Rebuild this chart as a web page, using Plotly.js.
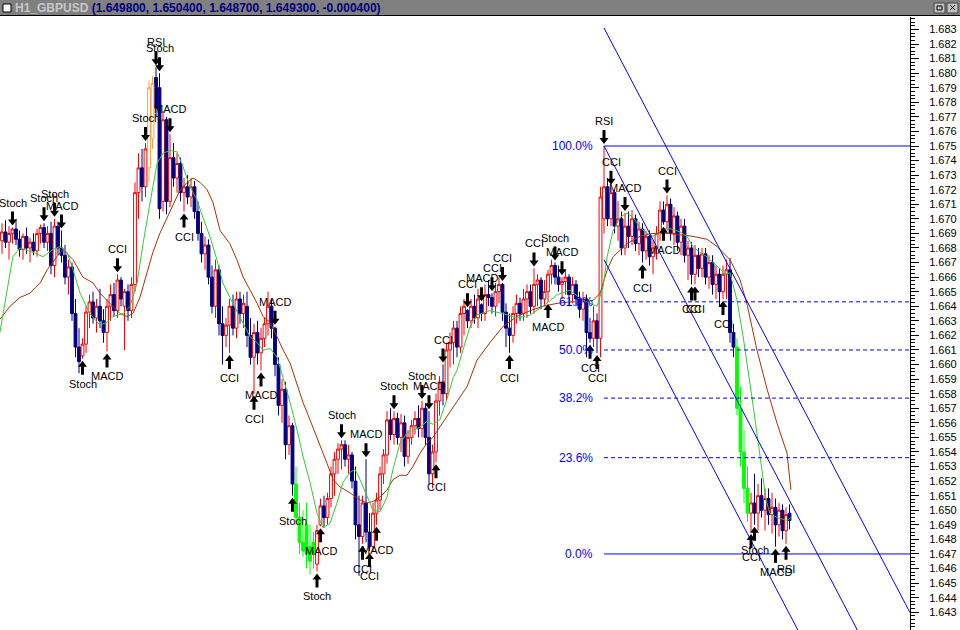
<!DOCTYPE html>
<html>
<head>
<meta charset="utf-8">
<script src="https://cdn.plot.ly/plotly-3.0.1.min.js"></script>
<style>
  html, body { margin: 0; padding: 0; background: #ffffff; }
  #chart { width: 960px; height: 630px; }
</style>
</head>
<body>
<div id="chart"></div>
<script>
// ---------------- data ----------------
const symbol = 'H1_GBPUSD';

// hourly bars, oldest first
const open = [
  1.6685,1.6691,1.6684,1.6690,1.6693,1.6686,1.6679,1.6688,1.6680,1.6684,
  1.6678,1.6690,1.6694,1.6684,1.6690,1.6668,1.6695,1.6680,1.6675,1.6660,
  1.6667,1.6635,1.6612,1.6606,1.6614,1.6636,1.6643,1.6632,1.6640,1.6630,
  1.6622,1.6640,1.6648,1.6637,1.6658,1.6640,1.6650,1.6637,1.6655,1.6718,
  1.6735,1.6722,1.6735,1.6755,1.6797,1.6790,1.6712,1.6768,1.6712,1.6742,
  1.6728,1.6738,1.6718,1.6722,1.6715,1.6722,1.6705,1.6690,1.6676,1.6682,
  1.6660,1.6640,1.6665,1.6628,1.6620,1.6627,1.6640,1.6625,1.6645,1.6635,
  1.6640,1.6620,1.6605,1.6622,1.6608,1.6618,1.6628,1.6640,1.6625,1.6600,
  1.6572,1.6583,1.6545,1.6558,1.6518,1.6495,1.6478,1.6490,1.6475,1.6470,
  1.6463,1.6490,1.6503,1.6495,1.6508,1.6525,1.6535,1.6542,1.6545,1.6535,
  1.6538,1.6520,1.6490,1.6482,1.6505,1.6485,1.6475,1.6498,1.6507,1.6525,
  1.6538,1.6562,1.6552,1.6563,1.6550,1.6560,1.6537,1.6550,1.6558,1.6563,
  1.6556,1.6570,1.6550,1.6525,1.6540,1.6575,1.6588,1.6580,1.6610,1.6615,
  1.6625,1.6612,1.6635,1.6637,1.6630,1.6640,1.6632,1.6641,1.6635,1.6648,
  1.6646,1.6640,1.6650,1.6655,1.6636,1.6625,1.6620,1.6635,1.6642,1.6635,
  1.6645,1.6650,1.6640,1.6655,1.6658,1.6645,1.6650,1.6662,1.6668,1.6660,
  1.6655,1.6657,1.6660,1.6648,1.6655,1.6645,1.6638,1.6645,1.6622,1.6618,
  1.6630,1.6618,1.6700,1.6722,1.6700,1.6718,1.6695,1.6700,1.6680,1.6695,
  1.6688,1.6700,1.6683,1.6693,1.6678,1.6688,1.6674,1.6680,1.6690,1.6706,
  1.6698,1.6710,1.6690,1.6702,1.6684,1.6695,1.6675,1.6680,1.6662,1.6675,
  1.6666,1.6676,1.6660,1.6670,1.6655,1.6662,1.6650,1.6662,1.6665,1.6622,
  1.6612,1.6570,1.6540,1.6515,1.6498,1.6505,1.6498,1.6510,1.6500,1.6508,
  1.6497,1.6502,1.6490,1.6500,1.6486,1.6498
];
const high = [
  1.6697,1.6699,1.6695,1.6694,1.6700,1.6692,1.6690,1.6694,1.6687,1.6690,
  1.6693,1.6696,1.6697,1.6695,1.6698,1.6700,1.6698,1.6692,1.6682,1.6672,
  1.6670,1.6645,1.6625,1.6618,1.6640,1.6648,1.6650,1.6645,1.6652,1.6638,
  1.6645,1.6655,1.6656,1.6662,1.6660,1.6652,1.6655,1.6660,1.6725,1.6745,
  1.6748,1.6752,1.6795,1.6798,1.6804,1.6800,1.6774,1.6770,1.6758,1.6752,
  1.6745,1.6742,1.6728,1.6730,1.6728,1.6726,1.6712,1.6698,1.6688,1.6686,
  1.6668,1.6672,1.6668,1.6640,1.6632,1.6645,1.6648,1.6650,1.6650,1.6648,
  1.6650,1.6632,1.6628,1.6630,1.6625,1.6632,1.6650,1.6645,1.6626,1.6605,
  1.6590,1.6588,1.6565,1.6560,1.6530,1.6505,1.6500,1.6505,1.6490,1.6485,
  1.6490,1.6508,1.6510,1.6512,1.6530,1.6540,1.6546,1.6548,1.6548,1.6545,
  1.6540,1.6530,1.6510,1.6510,1.6535,1.6498,1.6505,1.6512,1.6530,1.6542,
  1.6568,1.6570,1.6568,1.6567,1.6566,1.6565,1.6555,1.6562,1.6568,1.6572,
  1.6575,1.6573,1.6568,1.6545,1.6580,1.6592,1.6600,1.6615,1.6622,1.6630,
  1.6630,1.6640,1.6645,1.6638,1.6645,1.6648,1.6652,1.6642,1.6655,1.6658,
  1.6649,1.6656,1.6660,1.6656,1.6642,1.6635,1.6640,1.6648,1.6646,1.6652,
  1.6655,1.6655,1.6666,1.6662,1.6660,1.6658,1.6665,1.6672,1.6670,1.6668,
  1.6660,1.6665,1.6662,1.6660,1.6658,1.6650,1.6650,1.6648,1.6632,1.6640,
  1.6635,1.6722,1.6750,1.6728,1.6722,1.6720,1.6712,1.6705,1.6704,1.6705,
  1.6706,1.6703,1.6698,1.6697,1.6692,1.6692,1.6685,1.6695,1.6712,1.6712,
  1.6716,1.6714,1.6708,1.6705,1.6700,1.6700,1.6685,1.6684,1.6682,1.6680,
  1.6680,1.6680,1.6675,1.6675,1.6668,1.6666,1.6668,1.6672,1.6673,1.6628,
  1.6618,1.6585,1.6555,1.6530,1.6512,1.6525,1.6518,1.6522,1.6515,1.6515,
  1.6512,1.6508,1.6505,1.6504,1.6502,1.6504
];
const low = [
  1.6676,1.6680,1.6672,1.6683,1.6682,1.6674,1.6672,1.6676,1.6670,1.6675,
  1.6674,1.6683,1.6680,1.6678,1.6662,1.6660,1.6675,1.6670,1.6655,1.6648,
  1.6630,1.6605,1.6594,1.6604,1.6608,1.6625,1.6628,1.6622,1.6625,1.6615,
  1.6609,1.6630,1.6633,1.6632,1.6640,1.6610,1.6630,1.6632,1.6650,1.6700,
  1.6712,1.6715,1.6725,1.6748,1.6770,1.6700,1.6705,1.6703,1.6708,1.6722,
  1.6718,1.6712,1.6705,1.6710,1.6708,1.6700,1.6685,1.6670,1.6665,1.6655,
  1.6635,1.6632,1.6620,1.6600,1.6612,1.6608,1.6620,1.6618,1.6628,1.6625,
  1.6612,1.6600,1.6580,1.6600,1.6596,1.6612,1.6620,1.6618,1.6592,1.6565,
  1.6560,1.6535,1.6538,1.6510,1.6490,1.6470,1.6468,1.6460,1.6456,1.6460,
  1.6458,1.6489,1.6488,1.6490,1.6502,1.6510,1.6525,1.6528,1.6530,1.6525,
  1.6515,1.6480,1.6455,1.6477,1.6478,1.6472,1.6472,1.6490,1.6500,1.6518,
  1.6532,1.6548,1.6545,1.6545,1.6540,1.6530,1.6532,1.6545,1.6552,1.6550,
  1.6550,1.6545,1.6518,1.6515,1.6533,1.6565,1.6572,1.6575,1.6598,1.6600,
  1.6605,1.6608,1.6620,1.6625,1.6625,1.6628,1.6625,1.6630,1.6630,1.6640,
  1.6635,1.6633,1.6642,1.6630,1.6612,1.6608,1.6615,1.6628,1.6630,1.6630,
  1.6632,1.6635,1.6635,1.6640,1.6638,1.6640,1.6643,1.6655,1.6655,1.6650,
  1.6645,1.6648,1.6640,1.6642,1.6640,1.6632,1.6630,1.6605,1.6615,1.6612,
  1.6608,1.6605,1.6690,1.6695,1.6695,1.6690,1.6685,1.6675,1.6675,1.6680,
  1.6682,1.6678,1.6675,1.6670,1.6672,1.6668,1.6662,1.6672,1.6685,1.6696,
  1.6692,1.6685,1.6682,1.6678,1.6675,1.6670,1.6658,1.6655,1.6655,1.6660,
  1.6660,1.6655,1.6652,1.6648,1.6645,1.6640,1.6645,1.6645,1.6615,1.6605,
  1.6565,1.6530,1.6505,1.6492,1.6485,1.6490,1.6486,1.6495,1.6486,1.6490,
  1.6484,1.6475,1.6482,1.6480,1.6477,1.6487
];
const close = [
  1.6691,1.6684,1.6690,1.6693,1.6686,1.6679,1.6688,1.6680,1.6684,1.6678,
  1.6690,1.6694,1.6684,1.6690,1.6668,1.6695,1.6680,1.6675,1.6660,1.6667,
  1.6635,1.6612,1.6602,1.6614,1.6636,1.6643,1.6632,1.6640,1.6630,1.6622,
  1.6640,1.6648,1.6637,1.6658,1.6645,1.6650,1.6637,1.6655,1.6718,1.6735,
  1.6722,1.6748,1.6790,1.6793,1.6776,1.6707,1.6768,1.6712,1.6742,1.6728,
  1.6738,1.6718,1.6722,1.6715,1.6722,1.6705,1.6690,1.6676,1.6682,1.6660,
  1.6640,1.6665,1.6628,1.6620,1.6627,1.6640,1.6625,1.6645,1.6635,1.6642,
  1.6620,1.6605,1.6622,1.6608,1.6618,1.6628,1.6640,1.6625,1.6600,1.6572,
  1.6583,1.6545,1.6558,1.6518,1.6495,1.6478,1.6472,1.6470,1.6465,1.6478,
  1.6486,1.6503,1.6495,1.6508,1.6525,1.6535,1.6542,1.6545,1.6535,1.6538,
  1.6520,1.6490,1.6482,1.6505,1.6485,1.6475,1.6498,1.6507,1.6525,1.6538,
  1.6562,1.6552,1.6563,1.6550,1.6560,1.6537,1.6550,1.6558,1.6563,1.6556,
  1.6570,1.6550,1.6525,1.6540,1.6575,1.6588,1.6580,1.6610,1.6615,1.6625,
  1.6612,1.6635,1.6640,1.6630,1.6640,1.6632,1.6645,1.6635,1.6648,1.6646,
  1.6640,1.6650,1.6655,1.6636,1.6625,1.6620,1.6635,1.6642,1.6635,1.6645,
  1.6650,1.6640,1.6655,1.6658,1.6645,1.6650,1.6662,1.6668,1.6660,1.6655,
  1.6657,1.6660,1.6648,1.6655,1.6645,1.6638,1.6645,1.6622,1.6618,1.6630,
  1.6618,1.6715,1.6722,1.6700,1.6718,1.6695,1.6700,1.6680,1.6695,1.6688,
  1.6700,1.6683,1.6693,1.6678,1.6688,1.6674,1.6680,1.6690,1.6706,1.6698,
  1.6710,1.6690,1.6702,1.6684,1.6695,1.6675,1.6680,1.6662,1.6675,1.6666,
  1.6676,1.6660,1.6670,1.6655,1.6662,1.6650,1.6662,1.6665,1.6622,1.6612,
  1.6570,1.6540,1.6515,1.6498,1.6505,1.6498,1.6510,1.6500,1.6508,1.6497,
  1.6502,1.6490,1.6500,1.6486,1.6497,1.6493
];

// bars painted in the highlight colours
const greenBars  = [84, 85, 86, 87, 88, 89, 210, 211, 212, 213];
const orangeBars = [42, 43];

// fast moving average (green): bar position, price
const fastMaBar = [-0.6,3.1,5.1,8.9,11.7,14.6,16.6,18.6,20.3,22.3,25.1,28,30,31.7,34.6,36.6,38.6,40.3,42.3,44.3,
  46,48,50,51.7,53.7,55.7,57.4,59.4,61.4,63.1,65.1,67.1,68.9,70.9,72.9,74.6,76.6,78.6,80.3,82.3,
  84.3,86,88,90,91.7,93.7,95.7,97.4,99.4,100.9,102.3,104.3,106,108,110,111.7,113.7,115.7,117.4,119.4,
  121.4,123.1,125.1,127.1,128.9,130,131.7,133.7,135.7,139.4,143.1,147.1,150.9,154.6,158.6,162.3,166,170,171.7,172.9,
  174.6,176.6,178.6,180.3,182.3,184.3,186,188,190,193.7,195.7,197.4,199.4,201.4,203.1,205.1,206.5,208,210,211.7,
  214.3,216.6,218.3,219.4,221.4,224.3,225.4];
const fastMaVal = [1.6622,1.6674,1.6680,1.6677,1.6674,1.6679,1.6681,1.6677,1.6665,1.6649,1.6635,1.6627,1.6629,1.6633,1.6635,1.6640,1.6656,1.6683,1.6711,1.6738,
  1.6745,1.6747,1.6746,1.6736,1.6722,1.6713,1.6701,1.6688,1.6672,1.6656,1.6646,1.6637,1.6629,1.6619,1.6615,1.6610,1.6611,1.6605,1.6591,1.6574,
  1.6555,1.6537,1.6519,1.6498,1.6488,1.6491,1.6505,1.6519,1.6526,1.6528,1.6521,1.6509,1.6500,1.6499,1.6509,1.6528,1.6546,1.6553,1.6555,1.6557,
  1.6561,1.6559,1.6562,1.6576,1.6591,1.6596,1.6610,1.6626,1.6634,1.6637,1.6635,1.6632,1.6634,1.6640,1.6648,1.6651,1.6644,1.6640,1.6653,1.6674,
  1.6692,1.6701,1.6704,1.6701,1.6694,1.6690,1.6688,1.6690,1.6694,1.6691,1.6688,1.6681,1.6677,1.6674,1.6670,1.6666,1.6662,1.6663,1.6644,1.6620,
  1.6577,1.6537,1.6507,1.6498,1.6495,1.6493,1.6495];

// slow moving average (brown): bar position, price
const slowMaBar = [-0.6,2.3,5.1,8,10.9,12.9,15.7,17.4,20.3,23.1,26,28,30,31.7,33.7,35.7,37.4,39.4,41.4,43.1,
  45.1,48,50.9,52.9,54.6,56.6,58.6,60.3,62.3,65.1,67.1,68.9,70.9,72.9,74.6,76.6,78.6,80.3,82.3,84.3,
  86,88,90,92.9,94.6,96.6,99.4,102.3,104.3,106,108,110,111.7,113.7,115.7,117.4,119.4,121.4,123.1,125.1,
  127.1,128.9,130.9,132.9,135.7,139.4,143.1,147.1,150.9,154.6,158.6,162.3,166,168.9,170.9,172.9,174.6,178.6,182.3,186,
  190,193.7,197.4,201.4,204.3,208,210.9,212.9,215.7,218.6,221.4,224.3,225.4];
const slowMaVal = [1.6631,1.6640,1.6646,1.6649,1.6656,1.6665,1.6674,1.6679,1.6672,1.6660,1.6656,1.6649,1.6644,1.6640,1.6635,1.6633,1.6635,1.6646,1.6663,1.6677,
  1.6690,1.6705,1.6720,1.6725,1.6728,1.6725,1.6720,1.6711,1.6692,1.6683,1.6672,1.6660,1.6651,1.6642,1.6633,1.6629,1.6619,1.6610,1.6601,1.6587,
  1.6574,1.6562,1.6550,1.6532,1.6521,1.6516,1.6512,1.6507,1.6505,1.6506,1.6509,1.6514,1.6521,1.6524,1.6524,1.6530,1.6539,1.6546,1.6550,1.6557,
  1.6564,1.6571,1.6578,1.6585,1.6603,1.6615,1.6626,1.6633,1.6637,1.6640,1.6642,1.6643,1.6643,1.6644,1.6649,1.6665,1.6674,1.6683,1.6688,1.6690,
  1.6690,1.6689,1.6688,1.6686,1.6681,1.6672,1.6658,1.6641,1.6610,1.6583,1.6560,1.6539,1.6514];

// indicator signals: bar, side of the bar, indicator name
const signalBar  = [3,12,15,17,33,41,44,45,48,78,97,104,112,120,122,126,133,137,140,143,152,158,160,172,174,178,190,
                    23,30,52,65,72,74,83,90,91,103,105,107,124,145,156,168,170,183,189,197,198,206,214,215,221,224];
const signalSide = ['sell','sell','sell','sell','sell','sell','sell','sell','sell','sell','sell','sell','sell','sell','sell','sell','sell','sell','sell','sell','sell','sell','sell','sell','sell','sell','sell',
                    'buy','buy','buy','buy','buy','buy','buy','buy','buy','buy','buy','buy','buy','buy','buy','buy','buy','buy','buy','buy','buy','buy','buy','buy','buy','buy'];
const signalName = ['Stoch','Stoch','Stoch','MACD','CCI','Stoch','RSI','Stoch','MACD','MACD','Stoch','MACD','Stoch','Stoch','MACD','CCI','CCI','MACD','CCI','CCI','CCI','Stoch','MACD','RSI','CCI','MACD','CCI',
                    'Stoch','MACD','CCI','CCI','CCI','MACD','Stoch','Stoch','MACD','CCI','CCI','MACD','CCI','CCI','MACD','CCI','CCI','CCI','MACD','CCI','CCI','CCI','CCI','Stoch','MACD','RSI'];

// Fibonacci retracement of the last swing
const fibLevels = [0, 0.236, 0.382, 0.5, 0.618, 1];
const fibHigh = 1.675, fibLow = 1.647;
const swingBar = 172;

// price channel from the swing high
const channelSlope = -0.000459;          // price per bar
const channelOffsets = [0.0081, 0, -0.0078];

const priceTicks = [1.643,1.644,1.645,1.646,1.647,1.648,1.649,1.650,1.651,1.652,1.653,1.654,1.655,1.656,
  1.657,1.658,1.659,1.660,1.661,1.662,1.663,1.664,1.665,1.666,1.667,1.668,1.669,1.670,1.671,1.672,
  1.673,1.674,1.675,1.676,1.677,1.678,1.679,1.680,1.681,1.682,1.683];

// ---------------- drawing ----------------
const FONT = 'Liberation Sans, Arial, sans-serif';
const W = 960, H = 630, TOP = 17, RIGHT = 50;
const plotW = W - RIGHT, plotH = H - TOP;
const barPx = 3.5, firstBarPx = 2;
const xRange = [-firstBarPx / barPx, (plotW - firstBarPx) / barPx];
const yRange = [1.641781, 1.683854];

const px = v => v / plotW;               // pixel -> paper x
const py = v => (H - v) / plotH;         // pixel (from top) -> paper y

const greenSet = new Set(greenBars), orangeSet = new Set(orangeBars);
const allBars = open.map((_, i) => i);
const plainBars = allBars.filter(i => !greenSet.has(i) && !orangeSet.has(i));

function candles(list, incLine, incFill, decLine, decFill) {
  return {
    type: 'candlestick',
    x: list,
    open: list.map(i => open[i]),
    high: list.map(i => high[i]),
    low: list.map(i => low[i]),
    close: list.map(i => close[i]),
    whiskerwidth: 0,
    increasing: { line: { color: incLine, width: 1 }, fillcolor: incFill },
    decreasing: { line: { color: decLine, width: 1 }, fillcolor: decFill },
    hoverinfo: 'skip',
    showlegend: false
  };
}

const traces = [
  candles(plainBars, '#ff0000', '#ffffff', '#000080', '#000080'),
  candles(greenBars, '#00ff00', '#00ff00', '#00ff00', '#00ff00'),
  candles(orangeBars, '#ffa040', '#ffffff', '#ffa040', '#ffffff'),
  { type: 'scatter', mode: 'lines', x: slowMaBar, y: slowMaVal,
    line: { color: '#a83200', width: 1 }, hoverinfo: 'skip', showlegend: false },
  { type: 'scatter', mode: 'lines', x: fastMaBar, y: fastMaVal,
    line: { color: '#33cc33', width: 1 }, hoverinfo: 'skip', showlegend: false }
];

const shapes = [];
const annotations = [];

// Fibonacci levels
fibLevels.forEach(lv => {
  const price = fibLow + lv * (fibHigh - fibLow);
  const solid = (lv === 0 || lv === 1);
  shapes.push({ type: 'line', xref: 'x', yref: 'y', x0: swingBar, x1: xRange[1], y0: price, y1: price,
    line: { color: '#0000ff', width: 1, dash: solid ? 'solid' : '4px,3px' } });
  annotations.push({ xref: 'x', yref: 'y', x: swingBar, y: price, xanchor: 'right', yanchor: 'middle',
    xshift: -9, showarrow: false, text: (lv * 100).toFixed(1) + '%',
    font: { family: FONT, size: 12, color: '#0000ff' } });
});

// channel lines
const anchorPrice = high[swingBar];
channelOffsets.forEach(off => {
  shapes.push({ type: 'line', xref: 'x', yref: 'y',
    x0: swingBar, y0: anchorPrice + off,
    x1: xRange[1], y1: anchorPrice + off + channelSlope * (xRange[1] - swingBar),
    line: { color: '#0000ff', width: 1 } });
});

// signal arrows and their labels
const downArrow = 'M0,2 L4.5,8 L1.5,8 L1.5,16 L-1.5,16 L-1.5,8 L-4.5,8 Z';
const upArrow   = 'M0,-2 L4.5,-8 L1.5,-8 L1.5,-16 L-1.5,-16 L-1.5,-8 L-4.5,-8 Z';
signalBar.forEach((b, k) => {
  const sell = signalSide[k] === 'sell';
  const price = sell ? high[b] : low[b];
  shapes.push({ type: 'path', xref: 'x', yref: 'y', xsizemode: 'pixel', ysizemode: 'pixel',
    xanchor: b, yanchor: price, path: sell ? downArrow : upArrow,
    fillcolor: '#000000', line: { width: 0 } });
  annotations.push({ xref: 'x', yref: 'y', x: b, y: price, yshift: sell ? 25 : -25,
    xanchor: 'center', yanchor: 'middle', showarrow: false, text: signalName[k],
    font: { family: FONT, size: 11, color: '#000000' } });
});

// window caption bar
shapes.push({ type: 'rect', xref: 'paper', yref: 'paper', x0: 0, x1: px(W), y0: py(15), y1: py(0),
  fillcolor: '#808080', line: { width: 0 } });
shapes.push({ type: 'line', xref: 'paper', yref: 'paper', x0: 0, x1: px(W), y0: py(15.5), y1: py(15.5),
  line: { color: '#000000', width: 1 } });
shapes.push({ type: 'rect', xref: 'paper', yref: 'paper', x0: px(3), x1: px(11), y0: py(12), y1: py(4),
  fillcolor: '#ffffff', line: { color: '#000000', width: 1 } });
[[934, 945], [947, 958]].forEach(([a, b]) => {
  shapes.push({ type: 'rect', xref: 'paper', yref: 'paper', x0: px(a), x1: px(b), y0: py(13), y1: py(3),
    fillcolor: '#c0c0c0', line: { color: '#404040', width: 1 } });
});
shapes.push({ type: 'rect', xref: 'paper', yref: 'paper', x0: px(937), x1: px(942), y0: py(10), y1: py(6),
  fillcolor: 'rgba(0,0,0,0)', line: { color: '#000000', width: 1 } });
shapes.push({ type: 'line', xref: 'paper', yref: 'paper', x0: px(950), x1: px(955), y0: py(10), y1: py(5),
  line: { color: '#000000', width: 1 } });
shapes.push({ type: 'line', xref: 'paper', yref: 'paper', x0: px(950), x1: px(955), y0: py(5), y1: py(10),
  line: { color: '#000000', width: 1 } });

const n = close.length - 1;
const caption = '(' + [open[n], high[n], low[n], close[n], close[n] - close[n - 1]]
  .map(v => v.toFixed(6)).join(', ') + ')';
annotations.push({ xref: 'paper', yref: 'paper', x: px(13), y: py(8), xanchor: 'left', yanchor: 'middle',
  showarrow: false, text: '<b><span style="color:#c8c8c8">' + symbol + '</span> ' + caption + '</b>',
  font: { family: FONT, size: 12, color: '#000080' } });

const layout = {
  width: W, height: H,
  margin: { l: 0, r: RIGHT, t: TOP, b: 0, pad: 0 },
  paper_bgcolor: '#ffffff', plot_bgcolor: '#ffffff',
  showlegend: false, hovermode: false,
  boxgap: 0.1, boxgroupgap: 0.1,
  xaxis: { range: xRange, visible: false, showgrid: false, zeroline: false,
    rangeslider: { visible: false }, fixedrange: true },
  yaxis: { side: 'right', range: yRange, fixedrange: true,
    tickmode: 'array', tickvals: priceTicks, ticktext: priceTicks.map(v => v.toFixed(3)),
    ticks: 'outside', ticklen: 8, tickwidth: 1, tickcolor: '#000000',
    minor: { ticks: 'outside', tick0: 1.643, dtick: 0.00025, ticklen: 4, tickcolor: '#000000', showgrid: false },
    ticklabelstandoff: 8,
    showline: true, linecolor: '#000000', linewidth: 1,
    showgrid: false, zeroline: false,
    tickfont: { family: FONT, size: 11, color: '#000000' } },
  shapes: shapes,
  annotations: annotations
};

Plotly.newPlot('chart', traces, layout, { staticPlot: true, displayModeBar: false });
</script>
</body>
</html>
